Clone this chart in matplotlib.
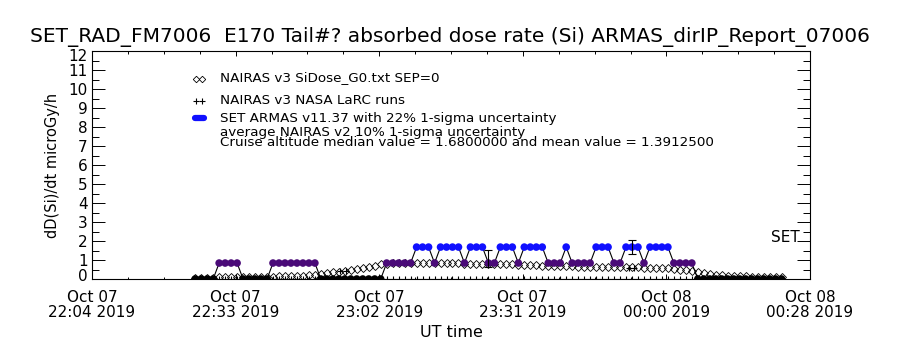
import numpy as np
import matplotlib
matplotlib.use("Agg")
import matplotlib.pyplot as plt
from matplotlib.lines import Line2D
from matplotlib.transforms import ScaledTranslation

plt.rcParams['font.family'] = ['DejaVu Sans']

# ---------------- data ----------------
title = "SET_RAD_FM7006  E170 Tail#? absorbed dose rate (Si) ARMAS_dirIP_Report_07006"
xtick_labels = ["Oct 07\n22:04 2019", "Oct 07\n22:33 2019", "Oct 07\n23:02 2019",
                "Oct 07\n23:31 2019", "Oct 08\n00:00 2019", "Oct 08\n00:28 2019"]
xtick_minutes = [0, 28.8, 57.6, 86.4, 115.2, 144.0]   # minutes after 22:04 UT
t_start = 20.7      # first sample, minutes after 22:04
t_step = 1.2        # sample interval, minutes

nairas = [0.05, 0.05, 0.06, 0.07,
          0.08, 0.10, 0.10, 0.12,
          0.10, 0.10, 0.11, 0.12, 0.12,
          0.13, 0.14, 0.15, 0.16, 0.17, 0.18, 0.20, 0.22,
          0.27, 0.31, 0.35, 0.39, 0.42, 0.47, 0.52, 0.58, 0.65, 0.71, 0.77,
          0.80, 0.82, 0.83, 0.83, 0.84, 0.84, 0.84, 0.84, 0.83, 0.83, 0.83, 0.82, 0.82,
          0.81, 0.81, 0.80, 0.80, 0.80, 0.79, 0.79, 0.78,
          0.77, 0.76, 0.75, 0.74, 0.73, 0.71, 0.70, 0.68,
          0.67, 0.66, 0.66, 0.65, 0.65, 0.64, 0.64, 0.63, 0.63, 0.62, 0.62, 0.62,
          0.61, 0.61, 0.60, 0.60, 0.59, 0.58,
          0.56, 0.53, 0.50, 0.46, 0.42, 0.36,
          0.30, 0.26, 0.23, 0.20, 0.18, 0.16, 0.15, 0.14, 0.13, 0.12, 0.11, 0.10, 0.10, 0.09]

set_armas = [0, 0, 0, 0,
             0.84, 0.84, 0.84, 0.84,
             0, 0, 0, 0, 0,
             0.84, 0.84, 0.84, 0.84, 0.84, 0.84, 0.84, 0.84,
             0, 0, 0, 0, 0, 0, 0, 0, 0, 0, 0,
             0.84, 0.84, 0.84, 0.84, 0.84,
             1.68, 1.68, 1.68,
             0.84,
             1.68, 1.68, 1.68, 1.68,
             0.84,
             1.68, 1.68, 1.68,
             0.84, 0.84,
             1.68, 1.68, 1.68,
             0.84,
             1.68, 1.68, 1.68, 1.68,
             0.84, 0.84, 0.84,
             1.68,
             0.84, 0.84, 0.84, 0.84,
             1.68, 1.68, 1.68,
             0.84, 0.84,
             1.68, 1.68, 1.68,
             0.84,
             1.68, 1.68, 1.68, 1.68,
             0.84, 0.84, 0.84, 0.84,
             0, 0, 0, 0, 0, 0, 0, 0, 0, 0, 0, 0, 0, 0, 0]

larc_zero = [0.0] * 99
larc_pts_time = [49.8, 51.0, 107.6, 108.8]
larc_pts_val = [0.42, 0.42, 0.60, 0.60]

err_time = [79.4, 108.3]
err_low = [0.63, 1.31]
err_high = [1.53, 2.05]

legend_lines = ["NAIRAS v3 SiDose_G0.txt SEP=0",
                "NAIRAS v3 NASA LaRC runs",
                "SET ARMAS v11.37 with 22% 1-sigma uncertainty",
                "average NAIRAS v2 10% 1-sigma uncertainty",
                "Cruise altitude median value = 1.6800000 and mean value = 1.3912500"]

BLUE = '#1010ff'
PURPLE = '#4a0a78'

# ---------------- figure ----------------
W, H = 900, 350
fig = plt.figure(figsize=(9, 3.5), dpi=100)
ax = fig.add_axes([92 / W, 1 - 279 / H, 718 / W, 228 / H])

t = t_start + t_step * np.arange(len(set_armas))
sa = np.array(set_armas)

# SET ARMAS connecting line
ax.plot(t, sa, color='black', lw=0.8, zorder=3)
colors = np.where(sa > 1.2, BLUE, np.where(sa > 0.4, PURPLE, 'black'))
ax.scatter(t, sa, s=30, c=list(colors), edgecolors='none', zorder=4)

# NAIRAS diamonds
ax.plot(t, nairas, ls='none', marker='D', ms=3.8, mfc='none', mec='black',
        mew=0.6, zorder=2)

# NASA LaRC plus markers
ax.plot(t, larc_zero, ls='none', marker='+', ms=5, mew=0.8, color='black', zorder=5)
ax.plot(larc_pts_time, larc_pts_val, ls='none', marker='+', ms=5, mew=0.8,
        color='black', zorder=5)

# uncertainty bars
for et, lo, hi in zip(err_time, err_low, err_high):
    ax.errorbar([et], [(lo + hi) / 2], yerr=[[(hi - lo) / 2], [(hi - lo) / 2]],
                fmt='none', ecolor='black', elinewidth=0.8, capsize=3, capthick=0.8,
                zorder=6)

ax.set_xlim(0, 144)
ax.set_ylim(0, 12)
ax.set_xticks(xtick_minutes)
ax.set_xticklabels(xtick_labels, fontsize=11, linespacing=0.95)
minor_x = [m for a, b in zip(xtick_minutes[:-1], xtick_minutes[1:])
           for m in np.linspace(a, b, 5)[1:-1]]
ax.set_xticks(minor_x, minor=True)
ax.set_yticks(range(0, 13))
ax.set_yticklabels([str(v) for v in range(0, 13)], fontsize=11)
ax.set_yticks(np.arange(0.5, 12, 1.0), minor=True)

ax.tick_params(axis='y', which='major', direction='in', length=9.5, width=0.7,
               left=True, right=True, pad=3)
ax.tick_params(axis='y', which='minor', direction='in', length=4.7, width=0.7,
               left=True, right=True)
ax.tick_params(axis='x', which='major', direction='in', length=3.5, width=0.7,
               bottom=True, top=True, pad=8)
ax.tick_params(axis='x', which='minor', direction='in', length=1.8, width=0.7,
               bottom=True, top=True)
for s in ax.spines.values():
    s.set_linewidth(0.8)

# nudge the end labels inward like the reference
ylabels = ax.get_yticklabels()
ylabels[0].set_transform(ylabels[0].get_transform() +
                         ScaledTranslation(0, 4 / 100, fig.dpi_scale_trans))
ylabels[-1].set_transform(ylabels[-1].get_transform() +
                          ScaledTranslation(0, -4 / 100, fig.dpi_scale_trans))

ax.set_ylabel("dD(Si)/dt microGy/h", fontsize=10.5, labelpad=6)
ax.set_xlabel("UT time", fontsize=11.5, labelpad=4)
fig.text(450 / W, 1 - 37 / H, title, ha='center', va='center', fontsize=14.5)

# SET label at right
fig.text(785 / W, 1 - 237 / H, "SET", ha='center', va='center', fontsize=11)

# legend
leg_y = [78, 100, 118, 132, 142]
for txt, yy in zip(legend_lines, leg_y):
    fig.text(220 / W, 1 - yy / H, txt, ha='left', va='center', fontsize=9.7)
fig.add_artist(Line2D([196 / W, 202 / W], [1 - 79 / H] * 2, ls='none', marker='D',
                      ms=3.3, mfc='none', mec='black', mew=0.6))
fig.add_artist(Line2D([196 / W, 202 / W], [1 - 101 / H] * 2, ls='none', marker='+',
                      ms=5, mew=0.8, color='black'))
fig.add_artist(Line2D([195 / W, 204 / W], [1 - 118 / H] * 2, lw=4.5, color=BLUE,
                      solid_capstyle='round'))

fig.savefig("out.png", dpi=100)
